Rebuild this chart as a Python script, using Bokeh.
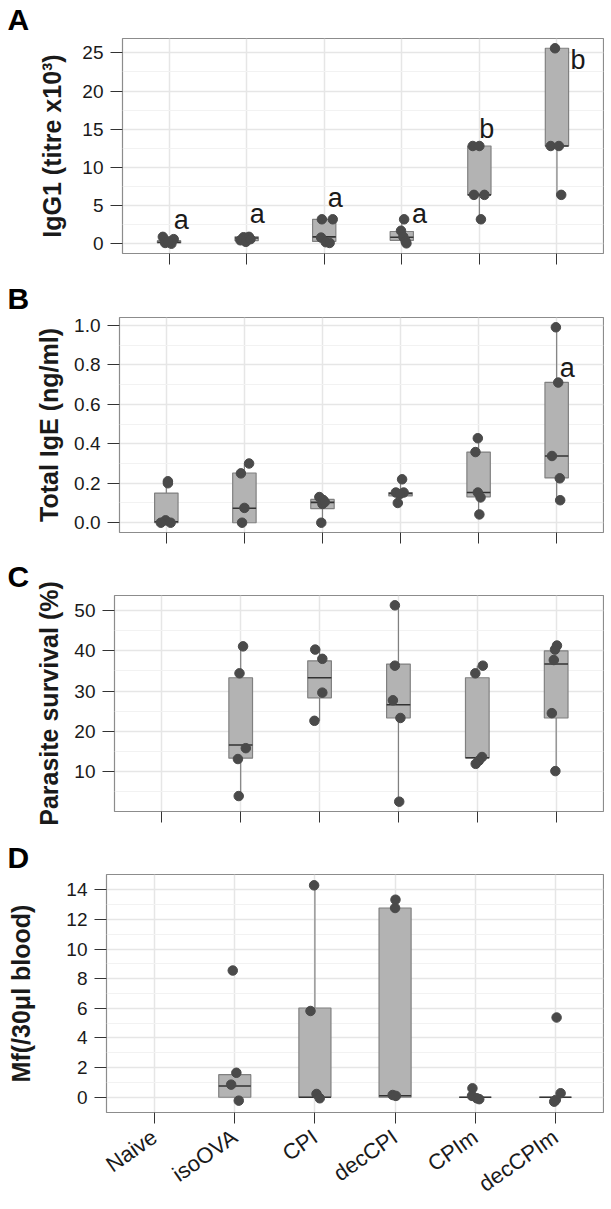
import math
from bokeh.plotting import figure
from bokeh.layouts import column, row
from bokeh.models import ColumnDataSource, FixedTicker, Range1d
from bokeh.core.properties import value
from bokeh.embed import file_html
from bokeh.resources import INLINE

# ---------------- data ----------------
groups = ["Naive", "isoOVA", "CPI", "decCPI", "CPIm", "decCPIm"]

# Panel A : IgG1 (titre x10^3)
a_q1 = [0.1, 0.4, 0.3, 0.45, 6.4, 12.8]
a_med = [0.2, 0.75, 0.9, 0.85, 6.4, 12.8]
a_q3 = [0.4, 0.9, 3.2, 1.6, 12.8, 25.6]
a_lo = [0.0, 0.25, 0.1, 0.0, 3.2, 6.4]
a_hi = [0.9, 0.9, 3.2, 3.2, 12.8, 25.6]
a_pt_group = ["Naive"] * 5 + ["isoOVA"] * 5 + ["CPI"] * 5 + ["decCPI"] * 5 + ["CPIm"] * 5 + ["decCPIm"] * 4
a_pt_jitter = [-0.08, 0.06, -0.05, 0.03, -0.01,
               -0.04, 0.03, -0.08, -0.01, 0.05,
               -0.03, 0.11, -0.04, 0.02, 0.07,
               0.03, -0.01, 0.02, 0.05, 0.06,
               -0.085, 0.0, -0.07, 0.065, 0.02,
               -0.025, -0.08, 0.025, 0.055]
a_pt_value = [0.9, 0.6, 0.1, 0.0, 0.3,
              0.85, 0.9, 0.45, 0.25, 0.6,
              3.2, 3.2, 0.8, 0.2, 0.1,
              3.2, 1.7, 0.9, 0.3, 0.05,
              12.8, 12.8, 6.4, 6.4, 3.2,
              25.6, 12.8, 12.8, 6.4]
a_letters = ["a", "a", "a", "a", "b", "b"]
a_letter_group = ["Naive", "isoOVA", "CPI", "decCPI", "CPIm", "decCPIm"]
a_letter_dx = [0.06, 0.04, 0.045, 0.13, 0.0, 0.175]
a_letter_y = [3.17, 3.94, 6.02, 3.94, 15.06, 24.12]
a_yticks = [0, 5, 10, 15, 20, 25]
a_ytick_labels = ["0", "5", "10", "15", "20", "25"]
a_yminor = [2.5, 7.5, 12.5, 17.5, 22.5]

# Panel B : Total IgE (ng/ml)
b_q1 = [0.0, 0.0, 0.071, 0.136, 0.131, 0.227]
b_med = [0.005, 0.073, 0.103, 0.148, 0.153, 0.338]
b_q3 = [0.15, 0.252, 0.118, 0.153, 0.358, 0.711]
b_lo = [0.0, 0.0, 0.0, 0.10, 0.042, 0.114]
b_hi = [0.21, 0.30, 0.13, 0.22, 0.428, 0.99]
b_pt_group = ["Naive"] * 5 + ["isoOVA"] * 4 + ["CPI"] * 5 + ["decCPI"] * 5 + ["CPIm"] * 5 + ["decCPIm"] * 5
b_pt_jitter = [0.02, 0.02, -0.01, -0.07, 0.055,
               0.06, -0.045, 0.0, -0.03,
               -0.04, 0.01, 0.0, 0.03, -0.015,
               0.02, -0.06, 0.04, -0.035, -0.01,
               -0.01, -0.04, -0.01, 0.025, 0.01,
               -0.01, 0.02, -0.06, 0.04, 0.045]
b_pt_value = [0.21, 0.20, 0.012, 0.0, 0.0,
              0.30, 0.25, 0.075, 0.0,
              0.13, 0.115, 0.095, 0.105, 0.0,
              0.22, 0.153, 0.153, 0.10, 0.145,
              0.428, 0.358, 0.153, 0.128, 0.042,
              0.99, 0.71, 0.338, 0.225, 0.114]
b_letters = ["a"]
b_letter_group = ["decCPIm"]
b_letter_dx = [0.04]
b_letter_y = [0.786]
b_yticks = [0.0, 0.2, 0.4, 0.6, 0.8, 1.0]
b_ytick_labels = ["0.0", "0.2", "0.4", "0.6", "0.8", "1.0"]
b_yminor = [0.1, 0.3, 0.5, 0.7, 0.9]

# Panel C : Parasite survival (%)
c_q1 = [None, 13.3, 28.3, 23.3, 13.4, 23.3]
c_med = [None, 16.6, 33.3, 26.6, 13.4, 36.7]
c_q3 = [None, 33.3, 37.5, 36.7, 33.3, 40.0]
c_lo = [None, 3.9, 22.6, 2.5, 11.9, 10.1]
c_hi = [None, 41.1, 40.3, 51.3, 36.3, 41.3]
c_pt_group = ["isoOVA"] * 5 + ["CPI"] * 4 + ["decCPI"] * 5 + ["CPIm"] * 5 + ["decCPIm"] * 5
c_pt_jitter = [0.03, -0.015, 0.065, -0.035, -0.025,
               -0.055, 0.035, 0.035, -0.065,
               -0.045, -0.045, -0.07, 0.025, 0.01,
               0.07, -0.025, 0.06, 0.02, -0.02,
               0.01, -0.015, -0.03, -0.055, -0.01]
c_pt_value = [41.1, 34.4, 15.8, 13.1, 3.9,
              40.3, 38.0, 29.6, 22.6,
              51.3, 36.3, 27.7, 23.3, 2.5,
              36.3, 34.4, 13.6, 12.7, 11.9,
              41.3, 40.3, 37.7, 24.5, 10.1]
c_yticks = [10, 20, 30, 40, 50]
c_ytick_labels = ["10", "20", "30", "40", "50"]
c_yminor = [5, 15, 25, 35, 45]

# Panel D : Mf (/30 ul blood)
d_q1 = [None, 0.0, 0.0, 0.0, 0.0, 0.0]
d_med = [None, 0.76, 0.0, 0.1, 0.0, 0.0]
d_q3 = [None, 1.52, 6.02, 12.77, 0.0, 0.0]
d_lo = [None, 0.0, 0.0, 0.0, 0.0, 0.0]
d_hi = [None, 1.65, 14.3, 13.33, 0.0, 0.0]
d_pt_group = ["isoOVA"] * 4 + ["CPI"] * 4 + ["decCPI"] * 4 + ["CPIm"] * 4 + ["decCPIm"] * 4
d_pt_jitter = [-0.025, 0.02, -0.045, 0.05,
               -0.01, -0.055, 0.02, 0.06,
               0.005, 0.0, -0.03, 0.01,
               -0.035, -0.04, 0.02, 0.05,
               0.015, 0.065, 0.005, -0.015]
d_pt_value = [8.55, 1.65, 0.85, -0.23,
              14.3, 5.82, 0.22, -0.07,
              13.33, 12.77, 0.15, 0.09,
              0.6, 0.09, -0.07, -0.13,
              5.38, 0.27, -0.18, -0.3]
d_yticks = [0, 2, 4, 6, 8, 10, 12, 14]
d_ytick_labels = ["0", "2", "4", "6", "8", "10", "12", "14"]
d_yminor = [1, 3, 5, 7, 9, 11, 13]

# ---------------- style ----------------
FONT = "Liberation Sans"
TXT = "#1A1A1A"
PT = "#4A4A4A"
BOXF = "#B3B3B3"
BOXL = "#808080"
MED = "#333333"
GRID = "#E6E6E6"
GRIDM = "#F2F2F2"
FRAME = "#8C8C8C"
W = 604
STRIP = 32


def letter_fig(letter, width, height, mid):
    """A small empty figure holding the bold panel letter."""
    b = figure(width=width, height=height, x_range=Range1d(0, width), y_range=Range1d(height, 0),
               x_axis_type=None, y_axis_type=None, output_backend="svg",
               toolbar_location=None, min_border=0)
    b.frame_align = False
    b.outline_line_color = None
    b.background_fill_color = "white"
    b.border_fill_color = "white"
    b.xgrid.visible = False
    b.ygrid.visible = False
    b.text(x=[7], y=[mid], text=[letter], text_font=value(FONT),
           text_font_style="bold", text_font_size="30px", text_align="left",
           text_baseline="middle", text_color="black")
    return b


def panel(ylabel, q1, med, q3, lo, hi, pg, pj, pv, yticks, ylabels, yminor,
          width, border_top, frame_h, border_bottom, border_left, label_standoff, box_w,
          show_x, letters=None):
    pos = {g: i + 1 for i, g in enumerate(groups)}
    allv = list(pv) + [v for v in lo + hi if v is not None]
    vmin, vmax = min(allv), max(allv)
    pad = 0.05 * (vmax - vmin)
    p = figure(width=width, height=border_top + frame_h + border_bottom,
               x_range=Range1d(0.4, 6.6), y_range=Range1d(vmin - pad, vmax + pad),
               output_backend="svg", toolbar_location=None,
               min_border_left=border_left, min_border_right=1,
               min_border_top=border_top, min_border_bottom=border_bottom)
    p.frame_align = False
    p.background_fill_color = "white"
    p.border_fill_color = "white"
    p.outline_line_color = FRAME
    p.outline_line_width = 1.2

    # grids
    p.xgrid.grid_line_color = GRID
    p.xgrid.grid_line_width = 1.5
    p.ygrid.grid_line_color = GRID
    p.ygrid.grid_line_width = 1.5
    p.ygrid.minor_grid_line_color = GRIDM
    p.ygrid.minor_grid_line_width = 1

    # axes
    p.xaxis.ticker = FixedTicker(ticks=[pos[g] for g in groups])
    p.xaxis.major_label_overrides = {pos[g]: g for g in groups}
    p.yaxis.ticker = FixedTicker(ticks=yticks, minor_ticks=yminor)
    p.yaxis.major_label_overrides = dict(zip(yticks, ylabels))
    for ax in (p.xaxis[0], p.yaxis[0]):
        ax.axis_line_color = None
        ax.major_tick_line_color = "#333333"
        ax.major_tick_line_width = 1
        ax.major_tick_in = 0
        ax.minor_tick_line_color = None
        ax.major_label_text_font = FONT
        ax.major_label_text_color = TXT
    p.xaxis.major_tick_out = 11
    p.yaxis.major_tick_out = 12
    p.yaxis.major_label_standoff = 7
    p.yaxis.major_label_text_font_size = "19px"
    p.yaxis.axis_label = ylabel
    p.yaxis.axis_label_text_font = FONT
    p.yaxis.axis_label_text_font_style = "bold"
    p.yaxis.axis_label_text_font_size = "25px"
    p.yaxis.axis_label_text_color = TXT
    p.yaxis.axis_label_standoff = label_standoff
    if show_x:
        p.xaxis.major_label_orientation = math.radians(35)
        p.xaxis.major_label_text_font_size = "22px"
        p.xaxis.major_label_standoff = 11
    else:
        p.xaxis.major_label_text_font_size = "1px"
        p.xaxis.major_label_text_color = None
        p.xaxis.major_label_standoff = 0

    # boxes
    idx = [i for i in range(len(groups)) if q1[i] is not None]
    src = ColumnDataSource(dict(
        x=[i + 1 for i in idx],
        xl=[i + 1 - box_w / 2 for i in idx],
        xr=[i + 1 + box_w / 2 for i in idx],
        q1=[q1[i] for i in idx], med=[med[i] for i in idx], q3=[q3[i] for i in idx],
        lo=[lo[i] for i in idx], hi=[hi[i] for i in idx]))
    p.segment(x0="x", y0="q3", x1="x", y1="hi", source=src, line_color=BOXL, line_width=1.2)
    p.segment(x0="x", y0="lo", x1="x", y1="q1", source=src, line_color=BOXL, line_width=1.2)
    p.vbar(x="x", width=box_w, top="q3", bottom="q1", source=src,
           fill_color=BOXF, line_color=BOXL, line_width=1.2)
    p.segment(x0="xl", y0="med", x1="xr", y1="med", source=src, line_color=MED, line_width=1.6)

    # points
    psrc = ColumnDataSource(dict(x=[pos[g] + j for g, j in zip(pg, pj)], y=pv))
    p.scatter(x="x", y="y", source=psrc, size=9.5, fill_color=PT, line_color=PT)

    # significance letters
    if letters is not None:
        lt, lg, ldx, ly = letters
        lsrc = ColumnDataSource(dict(x=[pos[g] + d for g, d in zip(lg, ldx)], y=ly, t=lt))
        p.text(x="x", y="y", text="t", source=lsrc, text_font=value(FONT),
               text_font_size="27px", text_align="left", text_baseline="middle",
               text_color=TXT)
    return p


# Panel A : letter strip on the left
pA = panel("IgG1 (titre x10³)", a_q1, a_med, a_q3, a_lo, a_hi,
           a_pt_group, a_pt_jitter, a_pt_value, a_yticks, a_ytick_labels, a_yminor,
           W - STRIP, 38, 215, 27, 122 - STRIP, 13, 0.3, False,
           (a_letters, a_letter_group, a_letter_dx, a_letter_y))
rowA = row(letter_fig("A", STRIP, 280, 18.5), pA, spacing=0)

pB = panel("Total IgE (ng/ml)", b_q1, b_med, b_q3, b_lo, b_hi,
           b_pt_group, b_pt_jitter, b_pt_value, b_yticks, b_ytick_labels, b_yminor,
           W - STRIP, 37, 215, 26, 110 - STRIP, 8, 0.3, False,
           (b_letters, b_letter_group, b_letter_dx, b_letter_y))
rowB = row(letter_fig("B", STRIP, 278, 17.5), pB, spacing=0)

pC = panel("Parasite survival (%)", c_q1, c_med, c_q3, c_lo, c_hi,
           c_pt_group, c_pt_jitter, c_pt_value, c_yticks, c_ytick_labels, c_yminor,
           W - STRIP, 37, 216, 31, 105 - STRIP, 8, 0.3, False)
rowC = row(letter_fig("C", STRIP, 284, 18), pC, spacing=0)

bandD = letter_fig("D", W, 30, 14.5)
pD = panel("Mf(/30μl blood)", d_q1, d_med, d_q3, d_lo, d_hi,
           d_pt_group, d_pt_jitter, d_pt_value, d_yticks, d_ytick_labels, d_yminor,
           W, 2, 238, 97, 106, 28, 0.4, True)

layout = column(rowA, rowB, rowC, bandD, pD, spacing=0)
open("out.html", "w").write(file_html(layout, INLINE))
